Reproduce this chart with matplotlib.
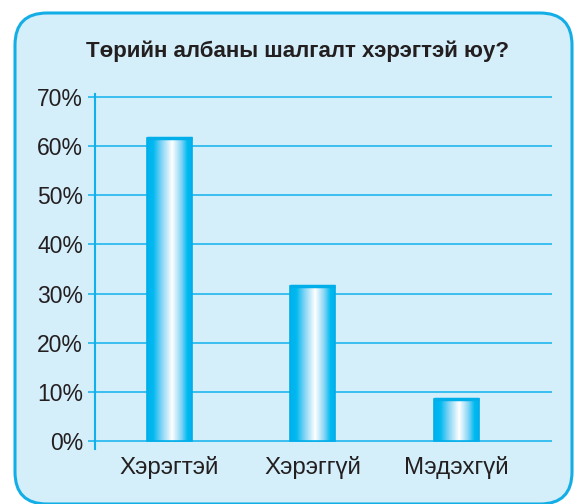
import numpy as np
import matplotlib
matplotlib.use("Agg")
import matplotlib.pyplot as plt
from matplotlib.patches import FancyBboxPatch
from matplotlib.colors import LinearSegmentedColormap

categories = ["Хэрэгтэй", "Хэрэггүй", "Мэдэхгүй"]
values = [61.7, 31.6, 8.5]
yticks = [0, 10, 20, 30, 40, 50, 60, 70]
ytick_labels = ["0%", "10%", "20%", "30%", "40%", "50%", "60%", "70%"]
title = "Төрийн албаны шалгалт хэрэгтэй юу?"

plt.rcParams['font.family'] = ['Liberation Sans', 'DejaVu Sans']

W, H = 574, 504
fig = plt.figure(figsize=(W / 100, H / 100), dpi=100)
fig.patch.set_facecolor("white")

# rounded panel (pixel coords)
panel = FancyBboxPatch((15 + 32, 0 + 32), 572 - 15 - 64, 491 - 0 - 64,
                       boxstyle="round,pad=32", transform=None,
                       facecolor="#d4eefa", edgecolor="#14aee6", linewidth=2.2,
                       zorder=-5)
fig.patches.append(panel)

ax = fig.add_axes([95 / W, (H - 449) / H, (552 - 95) / W, (449 - 94) / H])
ax.set_zorder(2)
ax.set_facecolor("none")
ax.set_xlim(-0.517, 2.665)
ax.set_ylim(-1.63, 70.6)

grid_c = "#2dbcee"
for y in yticks:
    ax.axhline(y, color=grid_c, lw=1.3, zorder=1)

for s in ["top", "right", "bottom"]:
    ax.spines[s].set_visible(False)
ax.spines["left"].set_color("#10b0ec")
ax.spines["left"].set_linewidth(1.5)

ax.set_yticks(yticks)
ax.set_yticklabels(ytick_labels, fontsize=16.5, color="#231f20")
ax.tick_params(axis="y", length=5, width=1.3, color=grid_c, pad=3.5)
ax.set_xticks(range(len(categories)))
ax.set_xticklabels(categories, fontsize=17.4, color="#231f20")
ax.tick_params(axis="x", length=0, pad=5)

cmap = LinearSegmentedColormap.from_list("barg", [
    (0.0, "#00b2ee"), (0.14, "#00b9f0"), (0.32, "#7fd3f5"),
    (0.56, "#ffffff"), (0.76, "#8ad6f5"), (0.9, "#00baf0"), (1.0, "#00b2ee")])
grad = np.linspace(0, 1, 256).reshape(1, -1)

bars = ax.bar(range(len(categories)), values, width=0.313,
              facecolor="none", edgecolor="#00aeea", linewidth=1.2, zorder=4)
for b in bars:
    x0, w, h = b.get_x(), b.get_width(), b.get_height()
    im = ax.imshow(grad, cmap=cmap, extent=(x0, x0 + w, 0, h),
                   aspect="auto", zorder=3, interpolation="bilinear")
    im.set_clip_path(b)
    ax.plot([x0, x0 + w], [h, h], color="#00aeea", lw=2.5, zorder=5,
            solid_capstyle="butt")

fig.text(298 / W, (H - 51) / H, title, ha="center", va="center",
         fontsize=16, fontweight="bold", color="#231f20")

fig.savefig("out.png", dpi=100, facecolor="white")
